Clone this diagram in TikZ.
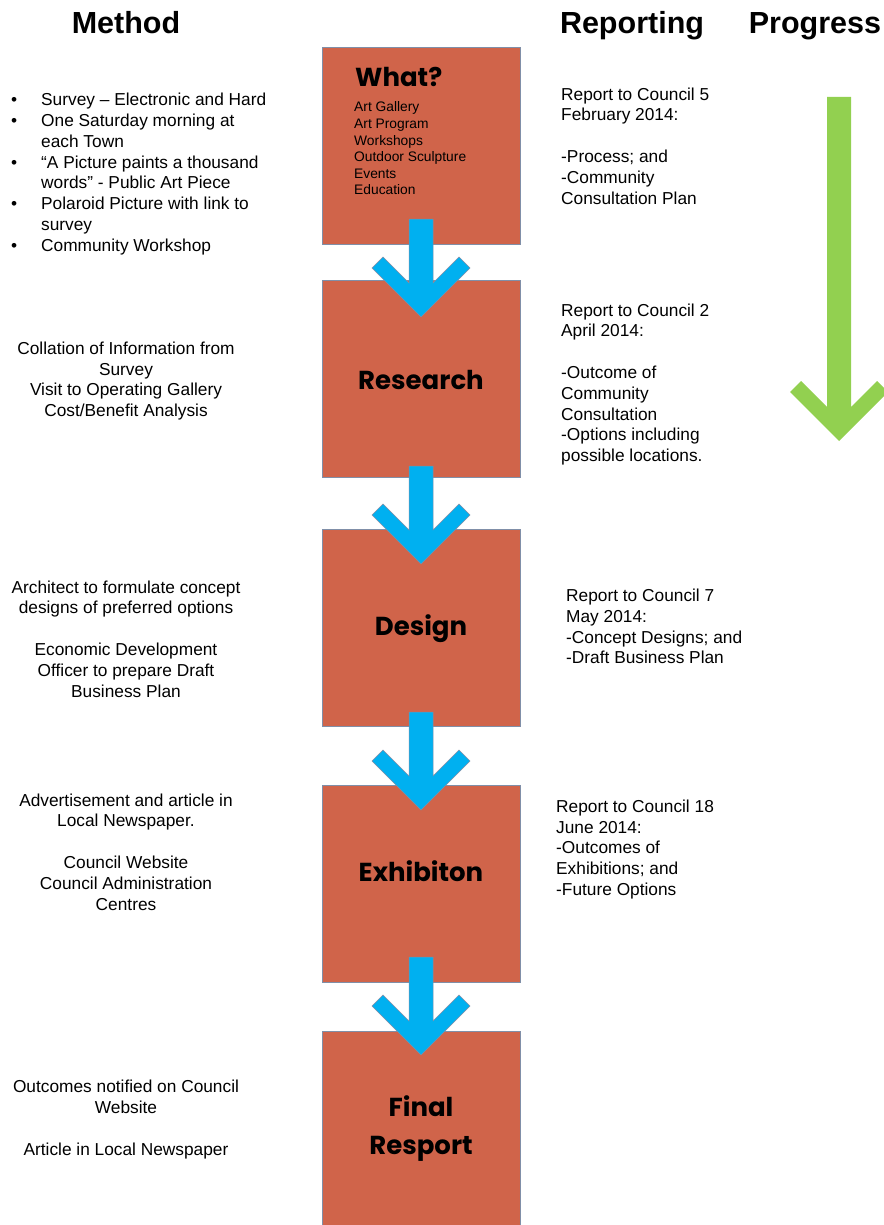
\documentclass[tikz,border=0pt]{standalone}
\usepackage{fontspec}
\setmainfont{Liberation Sans}
\newfontfamily\titlefont{Poppins}
\definecolor{boxfill}{RGB}{208,100,74}
\definecolor{boxline}{RGB}{128,143,168}
\definecolor{arrblue}{RGB}{0,176,240}
\definecolor{arrgreen}{RGB}{146,208,80}
\newcommand\blt{\makebox[30pt][l]{•}}
\begin{document}
\begin{tikzpicture}[x=1pt,y=-1pt,
  stage/.style={draw=boxline, line width=0.8pt, fill=boxfill, minimum width=198pt, minimum height=197pt, inner sep=0pt},
  body/.style={font=\fontsize{17.3}{20.8}\selectfont, inner sep=0pt},
  head/.style={font=\fontsize{30.5}{36}\selectfont\bfseries, inner sep=0pt, anchor=base},
  ttl/.style={font=\titlefont\fontsize{26}{38}\selectfont\bfseries, inner sep=0pt, anchor=base},
  small/.style={font=\fontsize{13.8}{16.6}\selectfont, inner sep=0pt, align=left},
  flowarrow/.style={fill=arrblue, draw=boxline, line width=0.5pt},
  bluearrow/.pic={\path[flowarrow] (-12,0) -- (12,0) -- (12,64) -- (38,38) -- (49,49) -- (0,98) -- (-49,49) -- (-38,38) -- (-12,64) -- cycle;}
]
\useasboundingbox (0,0) rectangle (883,1225);
\fill[white] (0,0) rectangle (883,1225);

% headers
\node[head] (hmethod) at (126,34) {Method};
\node[head] (hreport) at (632,34) {Reporting};
\node[head] (hprog) at (815,34) {Progress};

% stage boxes
\node[stage] (b1) at (421,145.5) {};
\node[stage] (b2) at (421,379) {};
\node[stage] (b3) at (421,627.5) {};
\node[stage] (b4) at (421,883.5) {};
\node[stage] (b5) at (421,1129.5) {};

% blue arrows between boxes
\pic at (b1.south |- 0,219) {bluearrow};
\pic at (b2.south |- 0,466) {bluearrow};
\pic at (b3.south |- 0,712) {bluearrow};
\pic at (b4.south |- 0,957) {bluearrow};

% green progress arrow
\path[fill=arrgreen] (827,97) -- (851,97) -- (851,407) -- (877,381) -- (888,392) -- (839,441) -- (790,392) -- (801,381) -- (827,407) -- cycle;

% box titles
\node[ttl, anchor=base west] (t1) at (355,87) {What?};
\node[small, anchor=west] (t1list) at (354,148.5) {Art Gallery\\Art Program\\Workshops\\Outdoor Sculpture\\Events\\Education};
\node[ttl] (t2) at (421,389) {Research};
\node[ttl] (t3) at (421,635) {Design};
\node[ttl] (t4) at (421,881) {Exhibiton};
\node[ttl, align=center, anchor=center] (t5) at (421,1129) {Final\\Resport};

% method column
\node[body, align=left, anchor=west] (m1) at (11,174) {%
\blt Survey – Electronic and Hard\\
\blt One Saturday morning at\\
\hspace*{30pt}each Town\\
\blt “A Picture paints a thousand\\
\hspace*{30pt}words” - Public Art Piece\\
\blt Polaroid Picture with link to\\
\hspace*{30pt}survey\\
\blt Community Workshop};
\node[body, align=center] (m2) at (126,381) {Collation of Information from\\Survey\\Visit to Operating Gallery\\Cost/Benefit Analysis};
\node[body, align=center] (m3) at (126,639) {Architect to formulate concept\\designs of preferred options\\\mbox{}\\Economic Development\\Officer to prepare Draft\\Business Plan};
\node[body, align=center] (m4) at (126,852) {Advertisement and article in\\Local Newspaper.\\\mbox{}\\Council Website\\Council Administration\\Centres};
\node[body, align=center] (m5) at (126,1119.5) {Outcomes notified on Council\\Website\\\mbox{}\\Article in Local Newspaper};

% reporting column
\node[body, align=left, anchor=west] (r1) at (561,146) {Report to Council 5\\February 2014:\\\mbox{}\\-Process; and\\-Community\\Consultation Plan};
\node[body, align=left, anchor=west] (r2) at (561,384.5) {Report to Council 2\\April 2014:\\\mbox{}\\-Outcome of\\Community\\Consultation\\-Options including\\possible locations.};
\node[body, align=left, anchor=west] (r3) at (566,626.5) {Report to Council 7\\May 2014:\\-Concept Designs; and\\-Draft Business Plan};
\node[body, align=left, anchor=west] (r4) at (556,849.5) {Report to Council 18\\June 2014:\\-Outcomes of\\Exhibitions; and\\-Future Options};
\end{tikzpicture}
\end{document}
